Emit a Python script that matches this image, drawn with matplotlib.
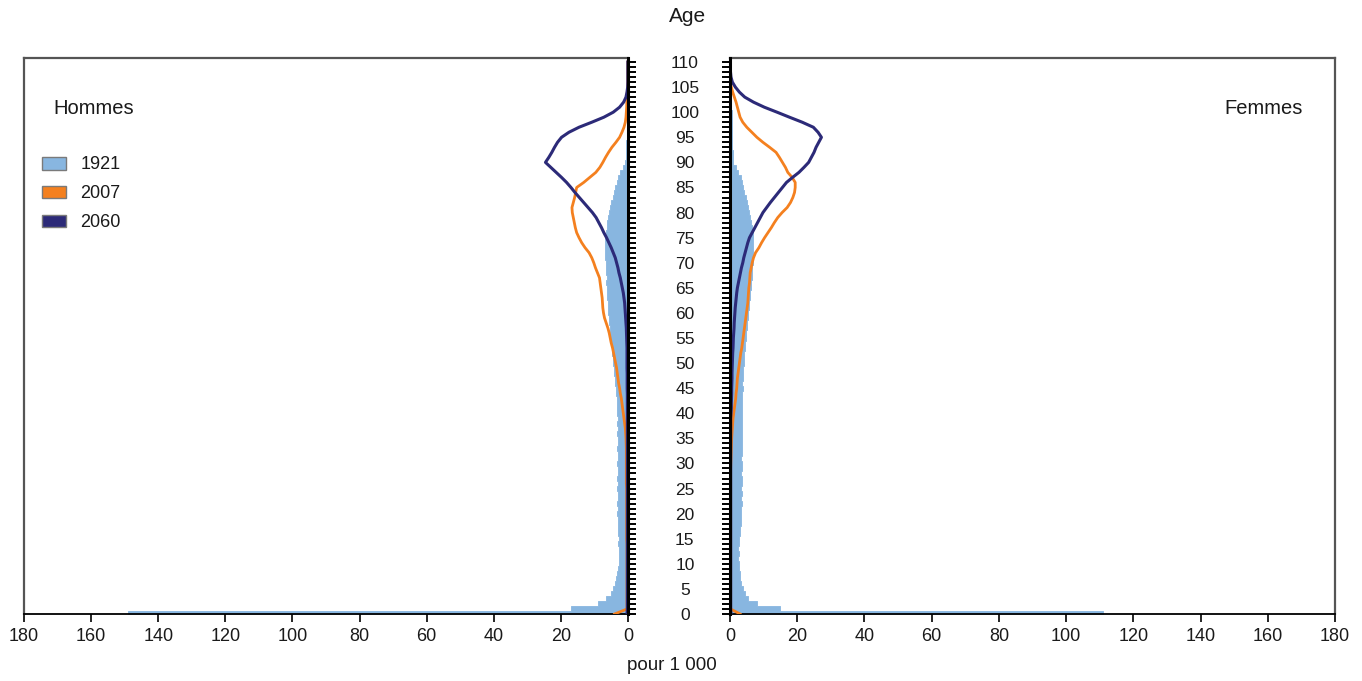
import matplotlib
matplotlib.use("Agg")
import matplotlib.pyplot as plt
from matplotlib.patches import Patch
from matplotlib.ticker import MultipleLocator
import numpy as np

plt.rcParams['font.family'] = ['Liberation Sans', 'DejaVu Sans']

ages = list(range(0, 111))

hommes_1921 = [149, 17, 9, 6.5, 5.2, 4.4, 3.9, 3.5, 3.2, 3.0,
               2.8, 2.7, 2.8, 2.7, 2.9, 2.8, 3.0, 2.9, 3.1, 3.0,
               3.2, 3.0, 3.3, 3.1, 3.0, 3.2, 3.0, 3.3, 3.1, 3.0,
               3.2, 3.0, 3.1, 3.3, 3.0, 3.1, 3.3, 3.0, 3.2, 3.1,
               3.3, 3.2, 3.4, 3.3, 3.5, 3.6, 3.8, 3.9, 4.1, 4.2,
               4.4, 4.6, 4.8, 4.9, 5.1, 5.3, 5.5, 5.4, 5.7, 5.8,
               5.9, 6.1, 6.0, 6.2, 6.3, 6.2, 6.5, 6.4, 6.6, 6.5,
               6.7, 6.8, 7.0, 6.9, 7.0, 6.8, 6.6, 6.3, 6.2, 6.0,
               5.7, 5.3, 5.0, 4.6, 4.2, 3.8, 3.4, 2.9, 2.3, 1.5,
               0.8, 0.6, 0.5, 0.5, 0.5, 0.4, 0.4, 0.4, 0.4, 0.3,
               0.3, 0.3, 0.3, 0.2, 0.2, 0.2, 0.1, 0.1, 0.1, 0.1, 0.1]

hommes_2007 = [4.0, 0.3, 0.3, 0.3, 0.3, 0.3, 0.3, 0.3, 0.3, 0.3,
               0.3, 0.3, 0.3, 0.3, 0.3, 0.4, 0.4, 0.4, 0.4, 0.4,
               0.4, 0.4, 0.4, 0.4, 0.4, 0.4, 0.5, 0.5, 0.5, 0.5,
               0.5, 0.5, 0.5, 0.5, 0.55, 0.6, 0.7, 0.8, 1.0, 1.2,
               1.4, 1.6, 1.8, 2.0, 2.3, 2.5, 2.8, 3.0, 3.2, 3.4,
               3.7, 4.0, 4.3, 4.6, 5.0, 5.3, 5.6, 6.0, 6.5, 7.0,
               7.3, 7.5, 7.6, 7.7, 7.9, 8.1, 8.3, 8.5, 9.1, 9.7,
               10.2, 10.8, 11.6, 12.8, 13.8, 14.6, 15.3, 15.7, 16.0, 16.3,
               16.6, 16.7, 16.3, 15.9, 15.6, 15.3, 13.2, 11.4, 9.6, 8.4,
               7.5, 6.7, 5.8, 4.8, 3.6, 2.5, 1.8, 1.2, 0.8, 0.6,
               0.5, 0.4, 0.35, 0.3, 0.2, 0.1, 0.05, 0.05, 0.05, 0.05, 0.05]

hommes_2060 = [0.3, 0.2, 0.2, 0.2, 0.2, 0.2, 0.2, 0.2, 0.2, 0.2,
               0.2, 0.2, 0.2, 0.2, 0.2, 0.2, 0.2, 0.2, 0.2, 0.2,
               0.2, 0.2, 0.2, 0.2, 0.2, 0.2, 0.2, 0.2, 0.2, 0.2,
               0.2, 0.2, 0.2, 0.2, 0.2, 0.2, 0.2, 0.2, 0.2, 0.2,
               0.2, 0.2, 0.2, 0.2, 0.2, 0.25, 0.25, 0.25, 0.25, 0.3,
               0.3, 0.3, 0.3, 0.3, 0.35, 0.4, 0.45, 0.5, 0.6, 0.7,
               0.8, 0.9, 1.0, 1.2, 1.4, 1.7, 2.0, 2.3, 2.7, 3.0,
               3.4, 3.8, 4.4, 5.0, 5.7, 6.4, 7.2, 7.9, 8.7, 9.5,
               10.6, 11.9, 13.2, 14.5, 15.8, 17.0, 18.3, 19.8, 21.4, 23.0,
               24.6, 23.6, 22.7, 21.9, 21.0, 19.8, 17.6, 14.6, 10.8, 7.2,
               4.4, 2.5, 1.3, 0.6, 0.3, 0.1, 0.05, 0.05, 0.05, 0.05, 0.05]

femmes_1921 = [111, 15, 8, 5.5, 4.5, 3.8, 3.4, 3.1, 2.9, 2.7,
               2.6, 2.5, 2.6, 2.5, 2.6, 2.7, 2.9, 3.0, 3.2, 3.3,
               3.4, 3.3, 3.5, 3.4, 3.5, 3.4, 3.6, 3.5, 3.4, 3.6,
               3.5, 3.4, 3.6, 3.5, 3.6, 3.5, 3.7, 3.5, 3.6, 3.5,
               3.6, 3.5, 3.7, 3.6, 3.7, 3.8, 3.7, 3.9, 3.8, 4.0,
               4.1, 4.3, 4.2, 4.5, 4.6, 4.7, 4.9, 5.0, 5.2, 5.3,
               5.5, 5.6, 5.8, 5.9, 6.0, 6.2, 6.3, 6.4, 6.6, 6.5,
               6.7, 6.8, 6.7, 6.9, 6.8, 6.9, 6.7, 6.5, 6.2, 6.0,
               5.7, 5.4, 5.1, 4.8, 4.3, 3.9, 3.6, 3.2, 2.5, 1.9,
               1.0, 0.8, 0.8, 0.7, 0.7, 0.7, 0.6, 0.6, 0.6, 0.5,
               0.5, 0.4, 0.4, 0.3, 0.3, 0.2, 0.2, 0.1, 0.1, 0.1, 0.1]

femmes_2007 = [3.0, 0.2, 0.2, 0.2, 0.2, 0.2, 0.2, 0.2, 0.2, 0.2,
               0.2, 0.2, 0.2, 0.2, 0.2, 0.2, 0.2, 0.2, 0.2, 0.2,
               0.2, 0.2, 0.2, 0.2, 0.2, 0.2, 0.2, 0.2, 0.2, 0.2,
               0.25, 0.3, 0.35, 0.4, 0.45, 0.5, 0.6, 0.7, 0.8, 0.9,
               1.1, 1.3, 1.5, 1.7, 1.8, 2.0, 2.1, 2.2, 2.4, 2.6,
               2.8, 3.0, 3.2, 3.5, 3.7, 3.9, 4.1, 4.3, 4.5, 4.7,
               4.9, 5.1, 5.3, 5.4, 5.5, 5.6, 5.8, 5.9, 6.0, 6.3,
               6.6, 7.0, 7.6, 8.6, 9.4, 10.3, 11.3, 12.3, 13.2, 14.2,
               15.5, 17.0, 18.0, 18.7, 19.2, 19.4, 19.4, 18.5, 17.2, 16.5,
               15.6, 14.7, 13.7, 11.8, 9.8, 8.0, 6.5, 5.0, 3.8, 3.0,
               2.6, 2.2, 1.8, 1.3, 0.8, 0.4, 0.1, 0.03, 0.03, 0.03, 0.03]

femmes_2060 = [0.3, 0.2, 0.2, 0.2, 0.2, 0.2, 0.2, 0.2, 0.2, 0.2,
               0.2, 0.2, 0.2, 0.2, 0.2, 0.2, 0.2, 0.2, 0.2, 0.2,
               0.2, 0.2, 0.2, 0.2, 0.2, 0.2, 0.2, 0.2, 0.2, 0.2,
               0.2, 0.2, 0.2, 0.2, 0.2, 0.2, 0.2, 0.2, 0.2, 0.2,
               0.3, 0.4, 0.4, 0.45, 0.5, 0.5, 0.55, 0.6, 0.6, 0.65,
               0.7, 0.75, 0.8, 0.9, 0.95, 1.0, 1.1, 1.2, 1.25, 1.35,
               1.45, 1.55, 1.7, 1.85, 2.0, 2.2, 2.5, 2.8, 3.1, 3.4,
               3.8, 4.1, 4.5, 4.9, 5.3, 5.8, 6.6, 7.4, 8.2, 9.0,
               9.8, 10.9, 12.0, 13.2, 14.4, 15.6, 16.8, 18.6, 20.5, 22.0,
               23.4, 24.2, 25.0, 25.6, 26.4, 27.2, 26.2, 24.8, 21.5, 17.7,
               14.0, 10.2, 7.0, 4.4, 2.8, 1.6, 0.7, 0.3, 0.15, 0.05, 0.05]

annees = ['1921', '2007', '2060']
couleurs = ['#88B6E0', '#F4801F', '#2C2A78']
x_ticks = list(range(0, 181, 20))
age_ticks = list(range(0, 111, 5))

W, H = 1362, 681
fig = plt.figure(figsize=(W / 100, H / 100), dpi=100)
axL = fig.add_axes([24 / W, 1 - 614 / H, 604 / W, 556 / H])
axR = fig.add_axes([730 / W, 1 - 614 / H, 605 / W, 556 / H])

text_col = '#1a1a1a'

for ax, d1921, d2007, d2060 in [(axL, hommes_1921, hommes_2007, hommes_2060),
                                (axR, femmes_1921, femmes_2007, femmes_2060)]:
    ax.fill_betweenx(ages, 0, d1921, step='mid', facecolor=couleurs[0],
                     edgecolor=couleurs[0], lw=0.6, zorder=1)
    ax.plot(d2007, ages, color=couleurs[1], lw=2.0, zorder=3, solid_joinstyle='round')
    ax.plot(d2060, ages, color=couleurs[2], lw=2.2, zorder=4, solid_joinstyle='round')
    ax.set_ylim(0, 110.8)
    ax.set_xticks(x_ticks)
    ax.set_xticklabels([str(v) for v in x_ticks])
    ax.tick_params(axis='x', direction='out', length=6, width=1.2, color='black',
                   labelsize=13, labelcolor=text_col, pad=4)
    ax.spines['bottom'].set_color('black')
    ax.spines['bottom'].set_linewidth(1.3)
    ax.spines['top'].set_color('#555555')
    ax.spines['top'].set_linewidth(1.6)

axL.set_xlim(180, 0)
axR.set_xlim(0, 180)

# left panel: inner spine on right
axL.spines['left'].set_color('#555555')
axL.spines['left'].set_linewidth(1.6)
axL.spines['right'].set_color('black')
axL.spines['right'].set_linewidth(2.2)
axL.spines['right'].set_zorder(5)
axL.yaxis.tick_right()
axL.yaxis.set_major_locator(MultipleLocator(1))
axL.tick_params(axis='y', which='both', direction='out', length=6, width=1.4,
                color='black', labelright=False, labelleft=False)

# right panel: inner spine on left
axR.spines['right'].set_color('#555555')
axR.spines['right'].set_linewidth(1.6)
axR.spines['left'].set_color('black')
axR.spines['left'].set_linewidth(2.2)
axR.spines['left'].set_zorder(5)
axR.set_yticks(age_ticks)
axR.set_yticklabels([str(a) for a in age_ticks])
axR.yaxis.set_minor_locator(MultipleLocator(1))
axR.tick_params(axis='y', which='both', direction='out', length=6, width=1.4,
                color='black')
axR.tick_params(axis='y', which='major', labelsize=12.5, labelcolor=text_col, pad=26.5)
for lab in axR.get_yticklabels():
    lab.set_horizontalalignment('center')

# titles
fig.text(688 / W, 1 - 17 / H, 'Age', ha='center', va='center', fontsize=15, color=text_col)
fig.text(672 / W, 1 - 665 / H, 'pour 1 000', ha='center', va='center', fontsize=13.5, color=text_col)
axL.text(53 / W, 1 - 108 / H, 'Hommes', transform=fig.transFigure, ha='left', va='center',
         fontsize=14.5, color=text_col)
axR.text(1303 / W, 1 - 108 / H, 'Femmes', transform=fig.transFigure, ha='right', va='center',
         fontsize=14.5, color=text_col)

handles = [Patch(facecolor=c, edgecolor='#7a7a7a', linewidth=1.0, label=a)
           for a, c in zip(annees, couleurs)]
axL.legend(handles=handles, loc='upper left', bbox_to_anchor=(28 / W, 1 - 142 / H),
           bbox_transform=fig.transFigure, frameon=False, fontsize=13,
           handlelength=1.3, handleheight=0.72, handletextpad=0.8, labelspacing=0.66,
           borderpad=0.3, labelcolor=text_col)

fig.savefig('out.png', dpi=100)
